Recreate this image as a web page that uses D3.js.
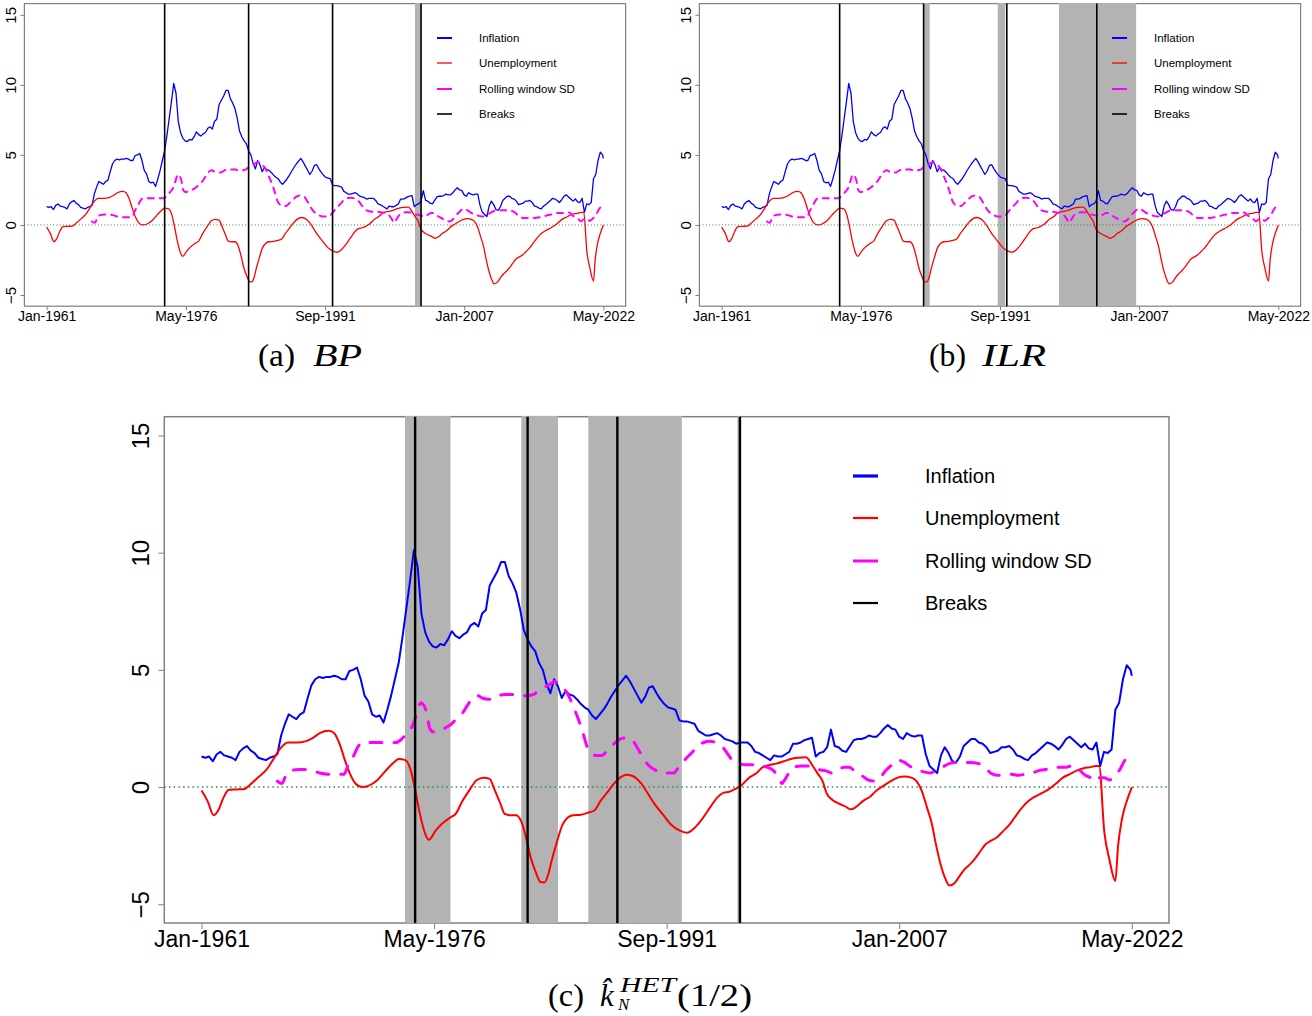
<!DOCTYPE html>
<html><head><meta charset="utf-8">
<script src="https://cdn.jsdelivr.net/npm/d3@7/dist/d3.min.js"></script>
<style>body{margin:0;background:#fff}</style>
</head><body>
<svg id="chart" width="1312" height="1016"></svg>
<script>
// ---------------- DATA ----------------
// Inflation: quarterly from Jan-1961 (step 3 months), last value = May-2022
const inflation = [
1.3,1.25,1.3,1.1, 1.4,1.5,1.35,1.3, 1.25,1.15,1.5,1.65, 1.75,1.55,1.45,1.25, 1.2,1.15,1.25,1.3,
1.4,2.2,2.7,3.1, 3.0,2.9,3.1,3.2, 3.8,4.35,4.6,4.7, 4.65,4.7,4.7,4.75, 4.7,4.6,4.6,4.95,
5.0,5.1,4.6,3.9, 3.65,3.1,3.0,3.05, 2.75,3.3,3.9,4.6, 5.3,6.4,7.6,8.8, 10.1,9.4,7.4,6.6,
6.2,6.0,5.95,6.1, 6.05,6.3,6.65,6.45, 6.35,6.5,6.6,6.9, 7.0,6.85,7.4,7.55, 8.6,8.9,9.2,9.6,
9.6,9.0,8.7,8.3, 7.6,6.7,6.3,6.0, 5.8,5.3,5.0,4.4, 4.0,4.6,4.3,3.8, 4.1,3.95,3.9,3.75,
3.55,3.4,3.3,3.05, 2.9,3.1,3.3,3.55, 3.85,4.1,4.35,4.55, 4.75,4.5,4.2,3.9, 3.6,3.85,4.25,4.3,
4.0,3.75,3.55,3.4, 3.35,3.3,2.85,2.8, 2.8,2.75,2.7,2.4, 2.3,2.2,2.2,2.25, 2.3,2.2,2.05,2.0,
1.95,1.85,1.9,1.9, 1.9,1.75,1.5,1.45, 1.35,1.25,1.15,1.35, 1.3,1.3,1.4,1.5, 1.85,1.85,1.9,2.0,
2.05,2.1,1.3,1.45, 1.5,1.7,2.45,1.75, 1.7,1.55,1.5,1.75, 2.0,2.05,2.05,2.1, 2.2,2.15,2.15,2.3,
2.5,2.65,2.5,2.45, 2.15,2.05,2.3,2.2, 2.15,2.2,2.2,1.4, 0.9,0.75,0.6,1.35, 1.7,1.45,1.1,1.05,
1.3,1.75,1.9,2.05, 2.05,1.9,1.85,1.7, 1.45,1.5,1.55,1.7, 1.7,1.75,1.6,1.35, 1.3,1.2,1.15,1.35,
1.45,1.6,1.75,1.9, 1.85,1.75,1.6,1.8, 2.05,2.15,2.0,1.85, 1.7,1.85,1.65,1.6, 1.9,0.9,1.5,1.45,
1.6,3.3,3.6,4.6, 5.2,5.0,4.75
];

// Unemployment (smooth): decimal years and values
const unempYears = [1961.0,1961.4,1961.8,1962.1,1962.45,1962.8,1963.3,1963.85,1964.2,1964.8,1965.3,1965.75,1966.2,1966.7,1967.3,1967.85,1968.35,1968.8,1969.4,1969.75,1970.1,1970.45,1970.8,1971.15,1971.6,1972.0,1972.6,1973.15,1973.6,1974.0,1974.45,1974.8,1975.05,1975.4,1975.75,1975.98,1976.45,1976.8,1977.4,1977.75,1978.2,1978.7,1979.15,1979.6,1980.0,1980.3,1980.7,1981.0,1981.4,1981.75,1982.1,1982.45,1982.7,1983.05,1983.35,1983.6,1983.85,1984.1,1984.45,1984.8,1985.15,1985.5,1986.0,1986.45,1986.9,1987.3,1987.75,1988.2,1988.55,1989.05,1989.5,1990.0,1990.45,1990.9,1991.4,1991.95,1992.5,1993.0,1993.5,1994.0,1994.5,1995.0,1995.4,1995.8,1996.2,1996.6,1997.1,1997.6,1998.0,1998.5,1998.9,1999.4,1999.85,2000.3,2000.85,2001.3,2001.65,2001.95,2002.2,2002.6,2003.0,2003.5,2003.8,2004.15,2004.6,2005.1,2005.5,2006.0,2006.45,2006.9,2007.35,2007.8,2008.14,2008.48,2008.82,2009.16,2009.39,2009.73,2010.07,2010.3,2010.64,2010.98,2011.32,2011.66,2012.0,2012.34,2012.68,2013.02,2013.43,2013.82,2014.27,2014.61,2015.07,2015.52,2015.98,2016.43,2016.89,2017.34,2017.79,2018.25,2018.7,2019.16,2019.61,2019.95,2020.18,2020.52,2020.86,2021.25,2021.43,2021.66,2021.88,2022.11,2022.34];
const unempValues = [-0.15,-0.6,-1.2,-1.0,-0.45,-0.12,-0.1,-0.08,0.1,0.45,0.75,1.2,1.65,1.9,1.9,1.95,2.1,2.3,2.4,2.3,1.85,1.15,0.55,0.15,0.0,0.05,0.3,0.7,1.0,1.2,1.15,0.7,0.0,-1.15,-2.0,-2.25,-1.85,-1.6,-1.3,-1.15,-0.6,-0.1,0.3,0.4,0.35,-0.08,-0.7,-1.15,-1.2,-1.2,-1.5,-2.3,-3.0,-3.65,-4.05,-4.07,-3.75,-3.1,-2.3,-1.6,-1.3,-1.2,-1.18,-1.1,-1.0,-0.6,-0.23,0.15,0.38,0.53,0.45,0.15,-0.3,-0.75,-1.15,-1.6,-1.85,-1.95,-1.75,-1.37,-0.9,-0.45,-0.25,-0.2,-0.08,0.08,0.4,0.6,0.85,0.95,1.0,1.1,1.2,1.25,1.27,0.9,0.55,0.25,-0.25,-0.55,-0.7,-0.85,-0.95,-0.85,-0.6,-0.4,-0.15,0.07,0.25,0.4,0.45,0.4,0.25,-0.15,-0.85,-1.6,-2.35,-3.3,-3.95,-4.2,-4.1,-3.8,-3.5,-3.3,-3.05,-2.75,-2.45,-2.3,-2.15,-1.9,-1.6,-1.3,-0.9,-0.6,-0.4,-0.25,-0.08,0.15,0.4,0.55,0.7,0.8,0.85,0.9,0.9,-1.9,-3.1,-4.0,-2.5,-1.45,-0.85,-0.4,0.0];

// Rolling window SD (dashed)
const sdYears = [1966.0,1966.3,1966.6,1966.9,1967.4,1967.9,1968.3,1968.8,1969.3,1969.7,1970.1,1970.4,1970.7,1971.0,1971.3,1971.6,1972.0,1972.5,1973.0,1973.4,1973.8,1974.2,1974.6,1974.9,1975.2,1975.45,1975.65,1975.85,1976.05,1976.3,1976.6,1977.0,1977.4,1977.8,1978.2,1978.5,1978.8,1979.2,1979.5,1979.9,1980.2,1980.6,1981.0,1981.4,1981.8,1982.1,1982.5,1982.9,1983.2,1983.6,1984.0,1984.3,1984.6,1984.9,1985.2,1985.5,1985.9,1986.2,1986.4,1986.7,1987.0,1987.4,1987.8,1988.2,1988.6,1989.0,1989.4,1989.8,1990.2,1990.6,1991.0,1991.4,1991.67,1992.12,1992.46,1992.92,1993.37,1993.71,1994.1,1994.51,1994.9,1995.3,1995.65,1995.99,1996.44,1996.9,1997.35,1997.8,1998.26,1998.71,1999.05,1999.28,1999.39,1999.73,2000.08,2000.53,2000.87,2001.32,2001.67,2002.12,2002.57,2002.91,2003.37,2003.71,2004.16,2004.62,2004.96,2005.41,2005.75,2006.1,2006.44,2006.89,2007.35,2007.68,2008.14,2008.6,2009.05,2009.39,2009.84,2010.3,2010.75,2011.2,2011.66,2012.23,2012.68,2013.02,2013.48,2013.93,2014.39,2014.84,2015.3,2015.75,2016.2,2016.66,2017.11,2017.57,2018.02,2018.36,2018.7,2018.93,2019.27,2019.61,2019.88,2020.18,2020.52,2020.86,2021.16,2021.55,2021.88,2022.11,2022.34];
const sdValues = [0.25,0.15,0.55,0.7,0.75,0.75,0.7,0.6,0.55,0.55,0.55,0.55,1.0,1.3,1.7,1.9,1.9,1.9,1.9,1.9,1.9,2.05,2.35,2.6,3.15,3.6,3.5,3.15,2.5,2.35,2.4,2.5,2.65,2.9,3.15,3.45,3.75,3.9,3.8,3.75,3.75,3.9,3.95,3.95,3.95,3.9,3.9,3.95,4.1,4.25,4.4,4.5,4.35,4.2,3.9,3.45,2.8,2.2,1.75,1.45,1.35,1.35,1.6,1.85,2.05,2.1,2.0,1.6,1.15,0.85,0.7,0.6,0.6,0.6,0.85,1.2,1.5,1.75,1.9,1.95,1.9,1.75,1.45,1.15,1.0,0.95,0.95,0.9,0.85,0.7,0.4,0.15,0.25,0.6,0.85,0.9,0.9,0.85,0.75,0.7,0.6,0.7,0.85,0.85,0.6,0.45,0.3,0.25,0.4,0.7,0.9,1.15,1.05,0.9,0.75,0.65,0.6,0.7,0.85,1.0,1.05,1.05,1.05,1.0,0.85,0.6,0.5,0.5,0.55,0.5,0.55,0.6,0.7,0.75,0.85,0.85,0.85,0.9,0.85,0.7,0.5,0.4,0.25,0.4,0.4,0.3,0.45,0.75,1.15,1.3,1.4];

// Axis ticks (months since Jan-1961)
const xTickMonths = [0, 184, 368, 552, 736];
const xTickLabels = ["Jan-1961", "May-1976", "Sep-1991", "Jan-2007", "May-2022"];
const yTicks = [-5, 0, 5, 10, 15];
const legendLabels = ["Inflation", "Unemployment", "Rolling window SD", "Breaks"];

// Breaks and their intervals (months since Jan-1961)
const breaksBP  = [156, 267, 378, 495];
const bandsBP   = [[487, 495]];
const breaksILR = [156, 267, 377, 496];
const bandsILR  = [[267, 275], [365, 375], [446, 548]];
const breaksHET = [169, 258, 329, 426];
const bandsHET  = [[161, 197], [253, 282], [306, 380], [424, 426]];

// ---------------- DRAWING ----------------
const svg = d3.select("#chart");
const FONT = "Liberation Sans, Arial, sans-serif";
const nMonths = 736;
const toMonth = yr => (yr - 1961) * 12;
const inflMonth = i => Math.min(3 * i, nMonths);

const colors = {infl: "#0000ff", unemp: "#ff0000", sd: "#ff00ff", brk: "#000000", band: "#b3b3b3", zero: "#2e8b57", box: "#808080"};

const panels = [
  {breaks: breaksBP, bands: bandsBP, box: [24.4, 3.6, 625.6, 306.2], tick: 4, xFont: 14, yFont: 15, xLab: 15, yLab: 8,
   lw: {infl: 1.3, unemp: 1.3, sd: 2}, dash: "6,6", brkW: 1.6, zeroW: 1, zeroDash: "1,2.2", boxW: 1.2,
   legend: {x1: 437, x2: 452, tx: 479, rows: [38, 63, 89, 114], font: 11.5, lw: [2, 1.3, 2, 1.6]}},
  {breaks: breaksILR, bands: bandsILR, box: [699.4, 3.6, 1300.6, 306.2], tick: 4, xFont: 14, yFont: 15, xLab: 15, yLab: 8,
   lw: {infl: 1.3, unemp: 1.3, sd: 2}, dash: "6,6", brkW: 1.6, zeroW: 1, zeroDash: "1,2.2", boxW: 1.2,
   legend: {x1: 1112, x2: 1127, tx: 1154, rows: [38, 63, 89, 114], font: 11.5, lw: [2, 1.3, 2, 1.6]}},
  {breaks: breaksHET, bands: bandsHET, box: [164.3, 416.7, 1169, 923], tick: 6, xFont: 23, yFont: 24, xLab: 24, yLab: 15,
   lw: {infl: 2, unemp: 2, sd: 3}, dash: "12,12", brkW: 2.4, zeroW: 1.4, zeroDash: "1.5,3.2", boxW: 1.5,
   legend: {x1: 853, x2: 878, tx: 925, rows: [476, 518, 561, 603], font: 20, lw: [3.2, 2.2, 3, 2.2]}}
];

function drawPanel(p) {
  const [bx0, by0, bx1, by1] = p.box;
  const x = d3.scaleLinear().domain([-0.04 * nMonths, 1.04 * nMonths]).range([bx0, bx1]);
  const y = d3.scaleLinear().domain([-5.8, 15.8]).range([by1, by0]);
  const g = svg.append("g");

  g.append("rect").attr("x", bx0).attr("y", by0).attr("width", bx1 - bx0).attr("height", by1 - by0)
    .attr("fill", "#fff").attr("stroke", colors.box).attr("stroke-width", p.boxW);

  g.selectAll(".band").data(p.bands).enter().append("rect")
    .attr("x", d => x(d[0])).attr("width", d => x(d[1]) - x(d[0]))
    .attr("y", by0 - p.boxW / 2).attr("height", by1 - by0 + p.boxW / 2)
    .attr("fill", colors.band);

  g.append("line").attr("x1", bx0).attr("x2", bx1).attr("y1", y(0)).attr("y2", y(0))
    .attr("stroke", colors.zero).attr("stroke-width", p.zeroW).attr("stroke-dasharray", p.zeroDash);

  const lineInfl = d3.line().x((d, i) => x(inflMonth(i))).y(d => y(d));
  g.append("path").attr("d", lineInfl(inflation)).attr("fill", "none")
    .attr("stroke", colors.infl).attr("stroke-width", p.lw.infl).attr("stroke-linejoin", "round");

  const lineU = d3.line().x(d => x(toMonth(d[0]))).y(d => y(d[1])).curve(d3.curveMonotoneX);
  g.append("path").attr("d", lineU(d3.zip(unempYears, unempValues))).attr("fill", "none")
    .attr("stroke", colors.unemp).attr("stroke-width", p.lw.unemp).attr("stroke-linejoin", "round");

  g.append("path").attr("d", lineU(d3.zip(sdYears, sdValues))).attr("fill", "none")
    .attr("stroke", colors.sd).attr("stroke-width", p.lw.sd).attr("stroke-dasharray", p.dash)
    .attr("stroke-linecap", "round");

  g.selectAll(".brk").data(p.breaks).enter().append("line")
    .attr("x1", d => x(d)).attr("x2", d => x(d)).attr("y1", by0).attr("y2", by1)
    .attr("stroke", colors.brk).attr("stroke-width", p.brkW);

  const xa = g.append("g").attr("transform", `translate(0,${by1})`)
    .call(d3.axisBottom(x).tickValues(xTickMonths).tickFormat((d, i) => xTickLabels[i]).tickSize(p.tick));
  xa.select(".domain").remove();
  xa.selectAll("line").attr("stroke", colors.box);
  xa.selectAll("text").attr("y", p.xLab).attr("dy", 0).attr("fill", "#000")
    .style("font-family", FONT).style("font-size", p.xFont + "px");

  const ya = g.append("g").attr("transform", `translate(${bx0},0)`)
    .call(d3.axisLeft(y).tickValues(yTicks).tickSize(p.tick));
  ya.select(".domain").remove();
  ya.selectAll("line").attr("stroke", colors.box);
  ya.selectAll("text").attr("x", 0).attr("y", -p.yLab).attr("dy", 0)
    .attr("transform", "rotate(-90)").attr("text-anchor", "middle").attr("fill", "#000")
    .style("font-family", FONT).style("font-size", p.yFont + "px");

  const L = p.legend;
  const legCols = [colors.infl, colors.unemp, colors.sd, colors.brk];
  legendLabels.forEach((lab, i) => {
    g.append("line").attr("x1", L.x1).attr("x2", L.x2).attr("y1", L.rows[i]).attr("y2", L.rows[i])
      .attr("stroke", legCols[i]).attr("stroke-width", L.lw[i]);
    g.append("text").attr("x", L.tx).attr("y", L.rows[i]).attr("dy", "0.36em").text(lab)
      .style("font-family", FONT).style("font-size", L.font + "px").attr("fill", "#000");
  });
}
panels.forEach(drawPanel);

// ---------------- CAPTIONS ----------------
const SERIF = "Liberation Serif, Times New Roman, serif";
function cap(txt, x, yb, size, italic, len) {
  const t = svg.append("text").attr("x", x).attr("y", yb).text(txt)
    .style("font-family", SERIF).style("font-size", size + "px");
  if (italic) t.style("font-style", "italic");
  if (len) t.attr("textLength", len).attr("lengthAdjust", "spacingAndGlyphs");
  return t;
}
cap("(a)", 258, 366, 31, false, 37);
cap("BP", 313, 366, 31, true, 49);
cap("(b)", 929, 366, 31, false, 37);
cap("ILR", 982, 366, 31, true, 64);
cap("(c)", 548, 1006, 31, false, 36);
cap("k\u0302", 600, 1006, 31, true);
cap("HET", 620, 992, 20, true, 56);
cap("N", 618, 1010, 17, true);
cap("(1/2)", 677, 1006, 31, false, 75);
</script>
</body></html>
